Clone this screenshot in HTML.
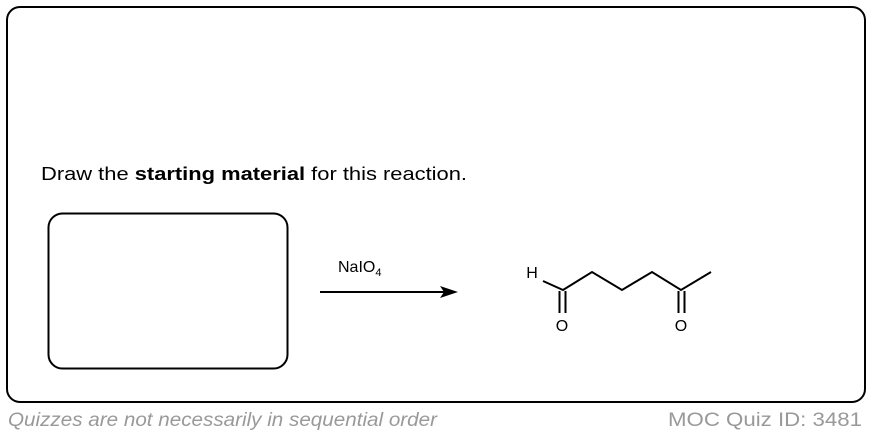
<!DOCTYPE html>
<html><head><meta charset="utf-8"><style>
body{margin:0;width:872px;height:436px;background:#fff;overflow:hidden;font-family:"Liberation Sans",Arial,sans-serif;}
</style></head><body>
<svg width="872" height="436" viewBox="0 0 872 436" xmlns="http://www.w3.org/2000/svg" style="position:absolute;left:0;top:0">
<rect x="7" y="7" width="858" height="395" rx="13" fill="none" stroke="#000" stroke-width="2"/>
<rect x="48.5" y="213.5" width="239" height="155" rx="14" fill="none" stroke="#000" stroke-width="2"/>
<text x="41" y="180" font-size="18" textLength="426" lengthAdjust="spacingAndGlyphs" font-family="Liberation Sans,Arial,sans-serif">Draw the <tspan font-weight="bold">starting material</tspan> for this reaction.</text>
<text x="338" y="272" font-size="16" font-family="Liberation Sans,Arial,sans-serif">NaIO<tspan font-size="11" dy="4">4</tspan></text>
<line x1="320" y1="292" x2="444" y2="292" stroke="#000" stroke-width="2"/>
<polygon points="458,292 440,286 444,292 440,298" fill="#000"/>
<g stroke="#000" stroke-width="2" fill="none">
<polyline points="543,281 563,290 592,272 622,290 652,272 681,290 711,272"/>
<line x1="559.5" y1="291" x2="559.5" y2="313"/><line x1="565.5" y1="291" x2="565.5" y2="313"/>
<line x1="678.5" y1="291" x2="678.5" y2="313"/><line x1="684.5" y1="291" x2="684.5" y2="313"/>
</g>
<g font-size="16" font-family="Liberation Sans,Arial,sans-serif" text-anchor="middle">
<text x="532" y="278">H</text>
<text x="562" y="331">O</text>
<text x="681" y="331">O</text>
</g>
<text x="8" y="426" font-size="19" fill="#999" font-style="italic" textLength="429" lengthAdjust="spacingAndGlyphs" font-family="Liberation Sans,Arial,sans-serif">Quizzes are not necessarily in sequential order</text>
<text x="668" y="426" font-size="19" fill="#999" textLength="194" lengthAdjust="spacingAndGlyphs" font-family="Liberation Sans,Arial,sans-serif">MOC Quiz ID: 3481</text>
</svg>
</body></html>
